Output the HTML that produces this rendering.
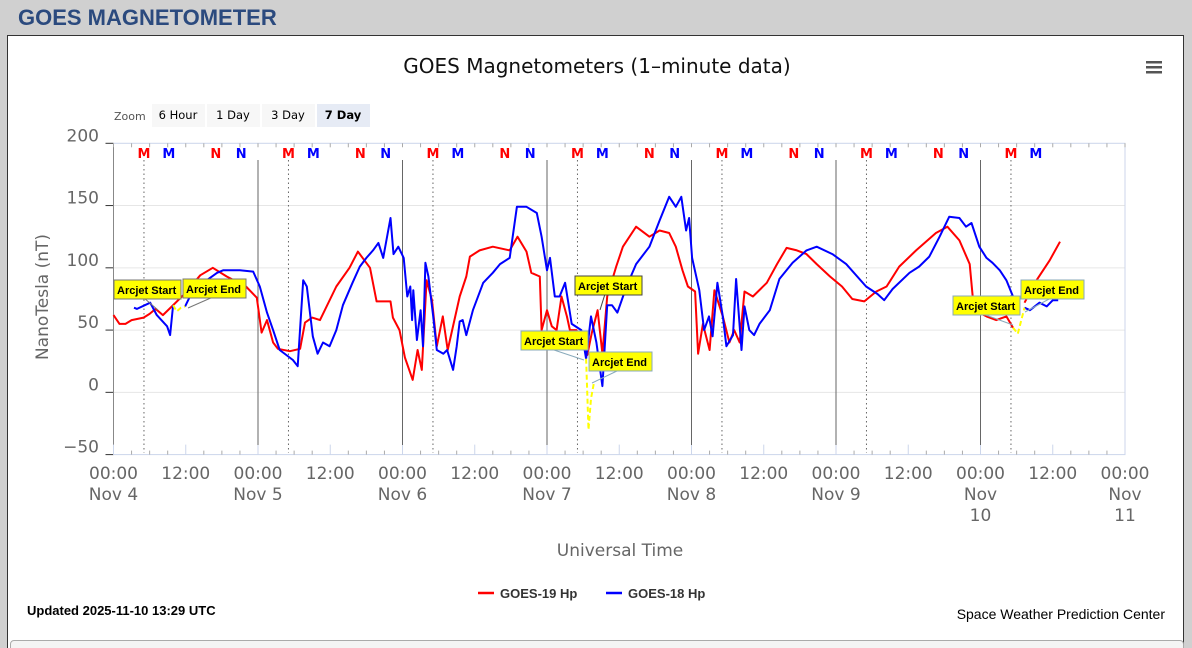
<!DOCTYPE html>
<html><head><meta charset="utf-8"><style>
html,body{margin:0;width:1192px;height:648px;overflow:hidden}
body{background:#d0d0d0;font-family:"Liberation Sans",sans-serif;position:relative}
.hdr{position:absolute;left:18px;top:5px;font-size:22px;font-weight:bold;color:#2b4a7e;letter-spacing:0px}
.panel{position:absolute;left:7px;top:35px;width:1175px;height:620px;background:#fff;border:1px solid #333}
.sub{position:absolute;left:10px;top:640px;width:1172px;height:20px;background:#f4f4f4;border:1px solid #aaa;border-radius:4px}
svg{position:absolute;left:0;top:0}
</style></head><body>
<div class="hdr">GOES MAGNETOMETER</div>
<div class="panel"></div>
<div class="sub"></div>
<svg id="chart" width="1192" height="648" font-family="DejaVu Sans, sans-serif"></svg>
<script>
const dayLabels=["Nov 4","Nov 5","Nov 6","Nov 7","Nov 8","Nov 9","Nov 10","Nov 11"];
const yTicks=[200,150,100,50,0,-50];
const redH=[0,1,2,3,5,6,7,8.2,9.7,12,14.4,16.5,18.8,22,23.8,24.6,25.5,26.5,27.3,29.3,31,31.8,33,34.3,37,39.2,40.6,42.6,43.7,46,46.4,47.5,48.4,49.7,50.5,51.2,52,52.9,53.7,54.7,55.5,57.5,58.6,59.2,60.8,63,65.8,67.1,68.6,69.4,70.8,71.1,72,72.8,73.6,74.4,75.3,75.8,76.9,77.7,78.7,79.4,80.4,81.2,82,83.5,84.6,86.8,89,90.7,92.3,93.4,94.5,95.4,96.6,97.1,97.9,99,99.8,101.2,102.3,103.1,104,104.8,106.2,108.5,110.2,111.8,113.5,115.1,116.8,119,121,122.7,124.7,126.7,128.4,130.5,133.3,136.6,138.5,140.5,142.2,142.7,143,145,146.6,148.3,149.4];
const redV=[62,55,55,58,60,63,67,62,69,80,94,100,93,85,76,48,58,40,35,33,35,56,60,58,85,100,113,100,73,73,60,50,28,10,34,18,90,74,37,61,34,77,93,109,114,117,114,125,113,96,93,50,66,53,50,77,61,50,50,40,30,47,66,31,77,101,117,133,125,130,128,117,98,85,81,31,55,34,82,61,40,50,40,81,77,88,103,116,114,111,103,93,85,75,73,81,85,101,114,128,133,122,103,77,66,61,58,61,52];
const redH2=[151.3,153.3,155.5,157.2];
const redV2=[72,90,106,121];
const blueH=[3.4,3.9,6.1,7.2,8.9,9.4,9.9];
const blueV=[68,67,72,62,53,46,70];
const blueH2=[11.9,13.2,14.9,17.2,18.2,21,23.2,24.3,25.5,26.5,27.6,29.8,30.6,31.5,32.1,33.1,33.9,34.8,35.9,37,38.1,39.7,40.9,42,43.1,44,44.8,46,46.5,47.3,48.2,48.8,49.3,49.6,49.8,50.4,51,51.4,51.8,52.3,53.1,53.7,54.8,55.4,56.4,57,57.5,58,58.6,59.7,61.4,63,64.2,65.8,67,68.6,70.3,71.1,72,72.5,73.3,74.1,75,76.1,77.7,78.5,79.3,80.2,81.2,82,82.8,83.7,85.2,86.8,89,90.7,92.3,93.4,94.3,95.1,95.6,96.1,97.3,98.1,98.9,99.5,100.3,101.2,101.8,102.9,103.4,104.3,104.8,105.6,106.4,107.3,109,110.6,112.8,115.1,116.8,119.4,121.7,125,126.9,128,129.4,132.2,133.8,135.5,137.2,138.8,140.5,141.6,142.5,143.8,145,146,147.2,148.3,149.4];
const blueV2=[69,82,88,96,98,98,97,85,64,50,34,26,21,90,85,45,31,40,37,50,70,88,101,108,114,120,108,140,111,117,108,77,85,58,82,42,66,37,104,93,61,34,31,34,18,37,57,58,46,66,88,96,103,108,149,149,144,125,98,108,77,77,88,55,50,27,61,40,5,70,70,64,85,103,117,138,157,149,157,130,140,108,82,50,61,45,88,61,37,46,91,34,69,50,46,55,66,91,104,114,117,111,103,85,79,74,83,96,101,109,125,141,140,133,136,117,108,104,98,90,77];
const blueH3=[151.3,152.2,153.8,155,156,156.9];
const blueV3=[68,66,72,69,74,74];
const arcH=[[9.9,10.5,11.2,11.9],[78.5,78.9,79.3,79.8],[149.4,150.2,151,151.3]];
const arcV=[[70,65,68,69],[27,-30,-5,8],[52,47,62,68]];
const mOff=[5.06,9.2,17,21.2];
const mTxt=["M","M","N","N"];const mCol=["#f00","#00f","#f00","#00f"];

const X0=113.5,X1=1125,Y200=143.3,Y_50=454.6;
const xs=h=>X0+(X1-X0)*h/168;
const ys=v=>Y200+(200-v)*(Y_50-Y200)/250;
const svg=document.getElementById('chart');
const NS='http://www.w3.org/2000/svg';
function mk(tag,at,txt){const e=document.createElementNS(NS,tag);for(const k in at)e.setAttribute(k,at[k]);if(txt!==undefined)e.textContent=txt;svg.appendChild(e);return e;}

let t=mk('text',{x:597,y:73,'text-anchor':'middle','font-size':20,fill:'#111'},'GOES Magnetometers (1\u2013minute data)');


for(let i=0;i<3;i++){let r=mk('rect',{x:1146,y:61+i*5,width:16,height:2.5,fill:'#555'});

}
t=mk('text',{x:114,y:120,'font-size':11,fill:'#555'},'Zoom');


const btns=["6 Hour","1 Day","3 Day","7 Day"];
btns.forEach((b,i)=>{const bx=152+i*55;
let r=mk('rect',{x:bx,y:104,width:53,height:23,fill:i==3?'#e6ebf5':'#f7f7f7'});


let tt=mk('text',{x:bx+26,y:119,'text-anchor':'middle','font-size':11.5,fill:'#000','font-weight':i==3?'bold':'normal'},b);

});

yTicks.forEach(v=>{
 if(v!==200&&v!==-50){let g=mk('line',{x1:X0,x2:X1,y1:ys(v),y2:ys(v),stroke:'#e6e6e6'});
 
 }
 let tk=mk('line',{x1:X0-8,x2:X0,y1:ys(v),y2:ys(v),stroke:'#333'});
 
 
 let l=mk('text',{x:99,y:ys(v)-2,'text-anchor':'end','font-size':17,fill:'#666'},v<0?'\u2212'+(-v):String(v));
 
 
});
let fr=mk('rect',{x:X0,y:Y200,width:X1-X0,height:Y_50-Y200,fill:'none',stroke:'#ccd6eb'});


let la=mk('line',{x1:X0,x2:X0,y1:Y200,y2:Y_50,stroke:'#888'});


for(let h=0;h<=168;h+=3){
 let a=mk('line',{x1:xs(h),x2:xs(h),y1:Y200,y2:Y200+4,stroke:'#aaa'});
 
 
 let b=mk('line',{x1:xs(h),x2:xs(h),y1:Y_50,y2:Y_50-(h%12==0?10:4),stroke:h%12==0?'#ccd6eb':'#aaa'});
 
 
}
for(let d=0;d<7;d++){
 if(d>0){let l=mk('line',{x1:xs(d*24),x2:xs(d*24),y1:160,y2:445,stroke:'#666'});
 
 }
 mOff.forEach((o,i)=>{ if(d==6&&i>1)return;
  const xx=xs(d*24+o);
  if(i==0){let dl=mk('line',{x1:xx,x2:xx,y1:160,y2:453,stroke:'#666','stroke-dasharray':'1.5,3'});
  
  }
  let m=mk('text',{x:xx,y:158,'text-anchor':'middle','font-size':13,'font-weight':'bold',fill:mCol[i]},mTxt[i]);
  
  
 });
}
for(let d=0;d<8;d++){
 const xx=xs(d*24);
 let a=mk('text',{x:xx,y:479,'text-anchor':'middle','font-size':17,fill:'#666'},'00:00');
 
 
 if(d<7){let b=mk('text',{x:xs(d*24+12),y:479,'text-anchor':'middle','font-size':17,fill:'#666'},'12:00');
 
 }
 if(d<6){let c=mk('text',{x:xx,y:500,'text-anchor':'middle','font-size':17,fill:'#666'},dayLabels[d]);
 
 }
 else{const p=dayLabels[d].split(' ');
 let c=mk('text',{x:xx,y:500,'text-anchor':'middle','font-size':17,fill:'#666'},p[0]);
 
 
 let c2=mk('text',{x:xx,y:521,'text-anchor':'middle','font-size':17,fill:'#666'},p[1]);
 
 }
}
t=mk('text',{x:620,y:556,'text-anchor':'middle','font-size':17,fill:'#666'},'Universal Time');


t=mk('text',{x:0,y:0,'text-anchor':'middle','font-size':17,fill:'#666',transform:'translate(48,297) rotate(-90)'},'NanoTesla (nT)');



function path(H,V,col,name,dash){const d=H.map((h,i)=>(i?'L':'M')+xs(h).toFixed(1)+','+ys(V[i]).toFixed(1)).join('');
 const p=mk('path',{d:d,fill:'none',stroke:col,'stroke-width':2,'stroke-linejoin':'round'});
 if(dash)p.setAttribute('stroke-dasharray',dash);
 
 }
path(redH,redV,'#f00','goes19-series');
path(redH2,redV2,'#f00','goes19-series');
path(blueH,blueV,'#00f','goes18-series');
path(blueH2,blueV2,'#00f','goes18-series');
path(blueH3,blueV3,'#00f','goes18-series');
arcH.forEach((a,i)=>path(a,arcV[i],'#ff0','arcjet-segment','5,3'));

const notes=[[114,280,'Arcjet Start','#777',158,310],[183,279,'Arcjet End','#777',188,308],[575,276,'Arcjet Start','#444',600,310],[521,331,'Arcjet Start','#8ab',584,360],[589,352,'Arcjet End','#8ab',592,383],[953,296,'Arcjet Start','#8ab',1013,325],[1021,280,'Arcjet End','#8ab',1025,312]];
notes.forEach(n=>{
 let ln=mk('line',{x1:n[0]+30,y1:n[1]+18,x2:n[4],y2:n[5],stroke:n[3],'stroke-width':1});
 
 
 const w=n[2]=='Arcjet End'?63:67;
 let r=mk('rect',{x:n[0],y:n[1],width:w,height:19,fill:'#ff0',stroke:n[3]});
 
 
 let tt=mk('text',{x:n[0]+3,y:n[1]+14,'font-size':11,'font-weight':'bold',fill:'#000','font-family':'Liberation Sans, sans-serif'},n[2]);
 
 
});
let l1=mk('line',{x1:478,x2:494,y1:593,y2:593,stroke:'#f00','stroke-width':2.5});


t=mk('text',{x:500,y:598,'font-size':13,'font-weight':'bold',fill:'#333','font-family':'Liberation Sans, sans-serif'},'GOES-19 Hp');


let l2=mk('line',{x1:606,x2:622,y1:593,y2:593,stroke:'#00f','stroke-width':2.5});


t=mk('text',{x:628,y:598,'font-size':13,'font-weight':'bold',fill:'#333','font-family':'Liberation Sans, sans-serif'},'GOES-18 Hp');


t=mk('text',{x:27,y:615,'font-size':13,'font-weight':'bold',fill:'#000','font-family':'Liberation Sans, sans-serif'},'Updated 2025-11-10 13:29 UTC');


t=mk('text',{x:1165,y:619,'text-anchor':'end','font-size':14,fill:'#000','font-family':'Liberation Sans, sans-serif'},'Space Weather Prediction Center');


</script>
</body></html>
